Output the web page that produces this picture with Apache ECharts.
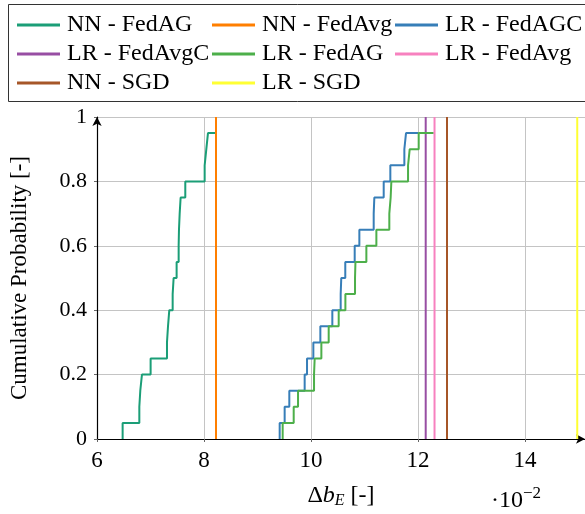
<!DOCTYPE html>
<html lang="en">
<head>
<meta charset="UTF-8">
<title>CDF</title>
<style>
  html, body { margin: 0; padding: 0; background: #fff; }
  #main { width: 585px; height: 514px; }
</style>
</head>
<body>
<div id="main"></div>
<script src="https://cdn.jsdelivr.net/npm/echarts@6/dist/echarts.min.js"></script>
<script>
// sorted samples, x in units of 1e-2
const nnFedAG = [6.479, 6.791, 6.809, 6.840, 7.002, 7.308, 7.327, 7.351, 7.414, 7.432,
                 7.488, 7.526, 7.532, 7.545, 7.563, 7.650, 8.012, 8.043, 8.074, 8.211];
const lrFedAGC = [9.414, 9.507, 9.594, 9.881, 9.925, 10.043, 10.174, 10.398, 10.554, 10.565,
                  10.640, 10.816, 10.903, 11.171, 11.183, 11.358, 11.482, 11.744, 11.775, 12.006];
const lrFedAG = [9.470, 9.676, 9.757, 10.056, 10.068, 10.193, 10.330, 10.517, 10.642, 10.822,
                 10.830, 11.034, 11.221, 11.463, 11.488, 11.501, 11.813, 11.844, 12.012, 12.292];
const cdfLevels = [0, 0.05, 0.1, 0.15, 0.2, 0.25, 0.3, 0.35, 0.4, 0.45,
                   0.5, 0.55, 0.6, 0.65, 0.7, 0.75, 0.8, 0.85, 0.9, 0.95];

// single results, drawn as vertical lines
const nnFedAvg = 8.224;
const lrFedAvgC = 12.143;
const lrFedAvg = 12.308;
const nnSGD = 12.541;
const lrSGD = 14.975;

const yTicks = [0, 0.2, 0.4, 0.6, 0.8, 1];

const FONT = 'Liberation Serif';
const myChart = echarts.init(document.getElementById('main'));

function cdf(xs) {
    return xs.map((x, i) => [x, cdfLevels[i]]);
}
function vline(x) {
    return [[x, 0], [x, 1]];
}
function line(name, color, data, step) {
    return {
        name: name, type: 'line', data: data, step: step || false,
        showSymbol: false, symbol: 'none', animation: false,
        lineStyle: {color: color, width: 2}, itemStyle: {color: color}
    };
}
function legend(left, names) {
    return {
        left: left, top: 13, padding: 0, orient: 'vertical', itemGap: 5,
        itemWidth: 43, itemHeight: 3, icon: 'rect',
        data: names,
        textStyle: {fontFamily: FONT, fontSize: 24, color: '#000', lineHeight: 24, padding: [0, 0, 0, 2]}
    };
}

myChart.setOption({
    animation: false,
    legend: [
        legend(17, ['NN - FedAG', 'LR - FedAvgC', 'NN - SGD']),
        legend(212, ['NN - FedAvg', 'LR - FedAG', 'LR - SGD']),
        legend(395, ['LR - FedAGC', 'LR - FedAvg'])
    ],
    graphic: [
        {type: 'rect', shape: {x: 8.5, y: 4.5, width: 620, height: 97},
         style: {fill: 'none', stroke: '#333', lineWidth: 1}},
        {type: 'text', left: 491, top: 485,
         style: {text: '{a|·10}{b|−2}', rich: {
             a: {fontFamily: FONT, fontSize: 24, color: '#000', lineHeight: 28, verticalAlign: 'bottom'},
             b: {fontFamily: FONT, fontSize: 17, color: '#000', lineHeight: 28, verticalAlign: 'top'}
         }}}
    ],
    grid: {left: 97, right: 0, top: 117, bottom: 74},
    xAxis: {
        type: 'value', min: 6, max: 15.12, interval: 2,
        name: '{d|Δ}{i|b}{s|E} [-]', nameLocation: 'middle', nameGap: 44,
        nameTextStyle: {fontFamily: FONT, fontSize: 24, color: '#000', rich: {
            d: {fontFamily: FONT, fontSize: 24, color: '#000'},
            i: {fontFamily: FONT, fontSize: 24, fontStyle: 'italic', color: '#000'},
            s: {fontFamily: FONT, fontSize: 16, fontStyle: 'italic', color: '#000', padding: [10, 0, 0, 0]}
        }},
        axisLine: {lineStyle: {color: '#000', width: 1.2}, symbol: ['none', 'arrow'], symbolSize: [7, 9]},
        axisTick: {length: 3, lineStyle: {color: '#666'}},
        axisLabel: {fontFamily: FONT, fontSize: 23, color: '#000', margin: 10, showMaxLabel: false,
                    formatter: v => (v % 2 === 0 ? String(v) : '')},
        splitLine: {show: true, lineStyle: {color: '#c4c4c4', width: 1}}
    },
    yAxis: {
        type: 'value', min: 0, max: 1, interval: 0.2,
        name: 'Cumulative Probability [-]', nameLocation: 'middle', nameGap: 66,
        nameTextStyle: {fontFamily: FONT, fontSize: 23, color: '#000'},
        axisLine: {show: true, lineStyle: {color: '#000', width: 1.2}, symbol: ['none', 'arrow'], symbolSize: [7, 9]},
        axisTick: {show: true, length: 3, lineStyle: {color: '#666'}},
        axisLabel: {fontFamily: FONT, fontSize: 22, color: '#000', margin: 10,
                    formatter: v => {
                        const t = yTicks.find(k => Math.abs(k - v) < 1e-9);
                        if (t === undefined) return '';
                        return (t === 0 || t === 1) ? String(t) : t.toFixed(1);
                    }},
        splitLine: {show: true, lineStyle: {color: '#c4c4c4', width: 1}}
    },
    series: [
        line('NN - FedAG', '#1b9e77', cdf(nnFedAG), 'start'),
        line('NN - FedAvg', '#ff7f00', vline(nnFedAvg)),
        line('LR - FedAGC', '#377eb8', cdf(lrFedAGC), 'start'),
        line('LR - FedAvgC', '#984ea3', vline(lrFedAvgC)),
        line('LR - FedAG', '#4daf4a', cdf(lrFedAG), 'start'),
        line('LR - FedAvg', '#f781bf', vline(lrFedAvg)),
        line('NN - SGD', '#a65628', vline(nnSGD)),
        line('LR - SGD', '#ffff33', vline(lrSGD))
    ]
});
</script>
</body>
</html>
